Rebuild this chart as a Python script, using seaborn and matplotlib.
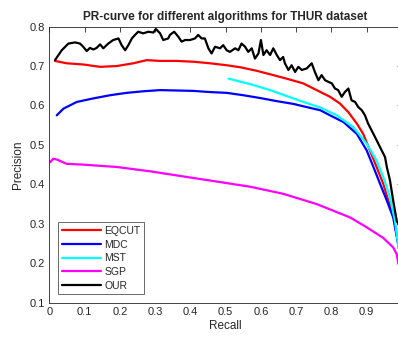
import numpy as np
import pandas as pd
import matplotlib
matplotlib.use("Agg")
import matplotlib.pyplot as plt
import seaborn as sns

# Precision-recall samples for each method
our_recall = [0.016, 0.035, 0.054, 0.073, 0.087, 0.096, 0.106, 0.115, 0.125, 0.134, 0.144, 0.153,
              0.167, 0.181, 0.196, 0.205, 0.215, 0.224, 0.234, 0.243, 0.252, 0.266, 0.281, 0.295,
              0.302, 0.314, 0.323, 0.337, 0.342, 0.354, 0.366, 0.375, 0.385, 0.399, 0.413, 0.422,
              0.432, 0.441, 0.451, 0.460, 0.470, 0.484, 0.493, 0.503, 0.512, 0.527, 0.536, 0.545,
              0.555, 0.564, 0.574, 0.583, 0.593, 0.600, 0.607, 0.616, 0.626, 0.635, 0.645, 0.654,
              0.663, 0.668, 0.678, 0.687, 0.697, 0.706, 0.716, 0.730, 0.744, 0.753, 0.763, 0.772,
              0.782, 0.791, 0.801, 0.810, 0.819, 0.829, 0.838, 0.848, 0.857, 0.867, 0.876, 0.886,
              0.895, 0.904, 0.919, 0.938, 0.952, 0.957, 0.966, 0.975, 0.985, 0.995]
our_precision = [0.715, 0.740, 0.757, 0.760, 0.757, 0.749, 0.738, 0.746, 0.742, 0.746, 0.755, 0.745,
                 0.757, 0.766, 0.770, 0.753, 0.740, 0.753, 0.770, 0.779, 0.787, 0.783, 0.787, 0.785,
                 0.794, 0.783, 0.766, 0.770, 0.779, 0.787, 0.774, 0.762, 0.766, 0.766, 0.770, 0.779,
                 0.770, 0.770, 0.745, 0.732, 0.749, 0.745, 0.753, 0.740, 0.736, 0.745, 0.740, 0.757,
                 0.749, 0.736, 0.745, 0.719, 0.732, 0.766, 0.728, 0.740, 0.728, 0.745, 0.728, 0.715,
                 0.723, 0.707, 0.690, 0.702, 0.685, 0.698, 0.690, 0.694, 0.707, 0.685, 0.664, 0.677,
                 0.664, 0.660, 0.656, 0.643, 0.639, 0.622, 0.634, 0.643, 0.613, 0.609, 0.596, 0.588,
                 0.575, 0.554, 0.528, 0.494, 0.469, 0.444, 0.410, 0.359, 0.308, 0.29]

eqcut_recall = [0.016, 0.049, 0.096, 0.144, 0.191, 0.238, 0.276, 0.314, 0.361, 0.408, 0.456, 0.503,
                0.541, 0.588, 0.635, 0.673, 0.720, 0.758, 0.796, 0.824, 0.848, 0.872, 0.890, 0.909,
                0.928, 0.947, 0.961, 0.975, 0.995]
eqcut_precision = [0.713, 0.707, 0.704, 0.698, 0.700, 0.707, 0.715, 0.713, 0.713, 0.711, 0.707, 0.702,
                   0.697, 0.688, 0.677, 0.668, 0.656, 0.639, 0.622, 0.605, 0.583, 0.554, 0.528, 0.486,
                   0.444, 0.401, 0.359, 0.325, 0.22]

mdc_recall = [0.021, 0.040, 0.078, 0.125, 0.172, 0.219, 0.266, 0.314, 0.361, 0.408, 0.456, 0.503,
              0.550, 0.597, 0.645, 0.692, 0.720, 0.768, 0.796, 0.834, 0.872, 0.9, 0.919, 0.938,
              0.957, 0.975, 0.995]
mdc_precision = [0.575, 0.592, 0.609, 0.618, 0.626, 0.632, 0.636, 0.639, 0.638, 0.637, 0.634, 0.632,
                 0.626, 0.619, 0.611, 0.604, 0.598, 0.588, 0.575, 0.558, 0.528, 0.486, 0.444, 0.401,
                 0.359, 0.316, 0.22]

mst_recall = [0.508, 0.570, 0.626, 0.673, 0.720, 0.768, 0.815, 0.862, 0.9, 0.928, 0.947, 0.966, 0.980, 0.990]
mst_precision = [0.668, 0.654, 0.639, 0.624, 0.609, 0.595, 0.575, 0.545, 0.503, 0.460, 0.418, 0.367, 0.308, 0.24]

sgp_recall = [0.002, 0.011, 0.021, 0.049, 0.096, 0.191, 0.286, 0.380, 0.475, 0.569, 0.663, 0.758,
              0.853, 0.9, 0.947, 0.975, 0.985, 0.99]
sgp_precision = [0.456, 0.465, 0.463, 0.452, 0.450, 0.444, 0.433, 0.420, 0.407, 0.394, 0.376, 0.350,
                 0.316, 0.291, 0.264, 0.24, 0.223, 0.198]

methods = ["EQCUT", "MDC", "MST", "SGP", "OUR"]
colors = ["#ff0000", "#0000ff", "#00ffff", "#ff00ff", "#000000"]
series = {
    "EQCUT": (eqcut_recall, eqcut_precision),
    "MDC": (mdc_recall, mdc_precision),
    "MST": (mst_recall, mst_precision),
    "SGP": (sgp_recall, sgp_precision),
    "OUR": (our_recall, our_precision),
}

frames = []
for name in methods:
    r, p = series[name]
    frames.append(pd.DataFrame({"Recall": r, "Precision": p, "Method": name}))
df = pd.concat(frames, ignore_index=True)

sns.set_style("white")
plt.rcParams["font.family"] = ["Liberation Sans", "DejaVu Sans"]

fig = plt.figure(figsize=(3.98, 3.37), dpi=100)
ax = fig.add_axes([0.124, 0.102, 0.886, 0.819])

sns.lineplot(data=df, x="Recall", y="Precision", hue="Method", hue_order=methods,
             palette=dict(zip(methods, colors)), sort=False, estimator=None,
             linewidth=1.6, ax=ax)

ax.set_xlim(0, 1)
ax.set_ylim(0.1, 0.8)
ax.set_xticks(np.arange(0, 1.0, 0.1))
ax.set_xticklabels(["0", "0.1", "0.2", "0.3", "0.4", "0.5", "0.6", "0.7", "0.8", "0.9"])
ax.set_yticks(np.arange(0.1, 0.81, 0.1))
ax.set_yticklabels(["0.1", "0.2", "0.3", "0.4", "0.5", "0.6", "0.7", "0.8"])

ax.tick_params(direction="in", length=3.5, width=0.6, colors="#262626", labelsize=8,
               top=True, right=True, pad=3)
for s in ax.spines.values():
    s.set_color("#262626")
    s.set_linewidth(0.6)

ax.set_xlabel("Recall", fontsize=8.5, color="#262626", labelpad=2)
ax.set_ylabel("Precision", fontsize=8.5, color="#262626", labelpad=4)
ax.set_title("PR-curve for different algorithms for THUR dataset", fontsize=8.5,
             fontweight="bold", pad=5)

leg = ax.legend(loc="lower left", fontsize=7.5, frameon=True, fancybox=False,
                edgecolor="#262626", handlelength=3.8, handletextpad=0.3,
                labelspacing=0.35, borderpad=0.35, borderaxespad=0.0,
                bbox_to_anchor=(0.025, 0.03))
leg.get_frame().set_linewidth(0.6)
for line in leg.get_lines():
    line.set_linewidth(1.6)

fig.savefig("out.png", dpi=100)
